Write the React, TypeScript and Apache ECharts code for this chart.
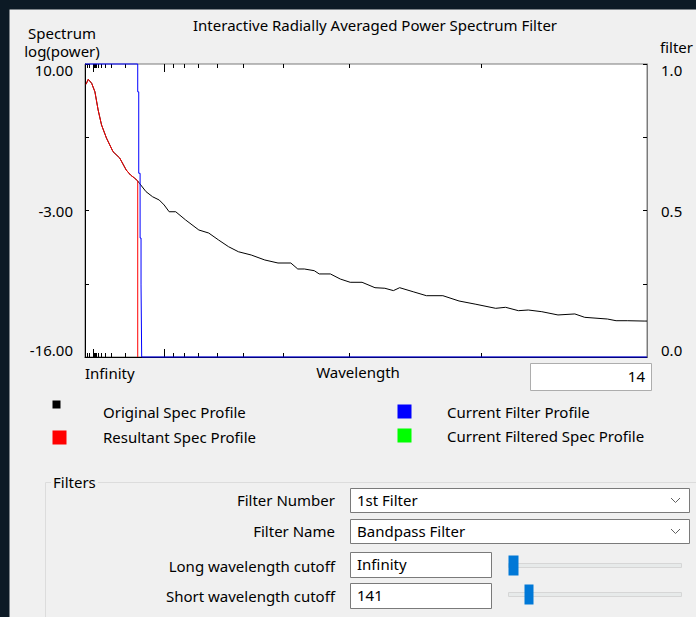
import React, { useEffect, useRef } from "react";
import * as echarts from "echarts";

// ---- data (x = spatial frequency, 1000 / wavelength) ----
const freqOriginal = [0.13, 0.41, 0.84, 1.25, 1.66, 2.09, 2.71, 3.54, 4.38, 5.21, 5.75, 6.25, 6.66, 6.88, 7.71, 8.54, 9.38, 10.0, 10.63, 11.46, 12.71, 14.38, 15.63, 16.88, 18.13, 19.38, 21.0, 22.71, 24.38, 26.0, 26.88, 27.71, 28.96, 29.59, 31.0, 32.25, 33.5, 35.0, 36.63, 37.88, 38.96, 39.75, 41.46, 43.13, 45.21, 47.25, 49.38, 51.88, 53.13, 54.75, 56.0, 57.71, 59.75, 61.88, 63.13, 66.0, 67.09, 68.5, 70.63, 71.0];
const specOriginal = [8.2, 8.64, 8.29, 7.54, 5.92, 4.59, 3.43, 2.22, 1.66, 0.59, 0.15, -0.12, -0.38, -0.59, -1.33, -1.78, -2.07, -2.51, -3.11, -3.11, -3.84, -4.73, -5.0, -5.62, -6.21, -6.66, -6.95, -7.39, -7.66, -7.66, -8.19, -8.19, -8.34, -8.63, -8.63, -9.08, -9.37, -9.37, -9.85, -9.9, -10.11, -9.85, -10.21, -10.56, -10.56, -11.03, -11.32, -11.68, -11.59, -11.89, -11.83, -11.98, -12.27, -12.18, -12.48, -12.63, -12.78, -12.78, -12.81, -12.81];

const freqResultant = [0.13, 0.41, 0.84, 1.25, 1.66, 2.09, 2.71, 3.54, 4.38, 5.21, 5.75, 6.25, 6.66, 6.66];
const specResultant = [8.2, 8.64, 8.29, 7.54, 5.92, 4.59, 3.43, 2.22, 1.66, 0.59, 0.15, -0.12, -0.38, -16];

const freqFilter = [0, 6.66, 6.66, 6.79, 6.79, 6.96, 6.96, 7.08, 7.08, 7.16, 7.16, 71.0];
const filterValues = [1, 1, 0.905, 0.905, 0.627, 0.627, 0.406, 0.406, 0.246, 0.246, 0, 0];

const majorTickWavelengths = [1000, 100];
const minorTickWavelengths = [5000, 2000, 900, 800, 700, 600, 500, 400, 300, 200, 90, 80, 70, 60, 50, 40, 30, 20];

const leftTickLabels = ["10.00", "-3.00", "-16.00"];
const rightTickLabels = ["1.0", "0.5", "0.0"];

const legendNames = ["Original Spec Profile", "Resultant Spec Profile", "Current Filter Profile", "Current Filtered Spec Profile"];
const legendColors = ["#000000", "#ff0000", "#0000ff", "#00ff00"];

const filterLabels = ["Filter Number", "Filter Name", "Long wavelength cutoff", "Short wavelength cutoff"];
const filterFieldValues = ["1st Filter", "Bandpass Filter", "Infinity", "141"];
const edgeWavelength = "14";

const FONT = "Noto Sans";
const FS = 15;

function zip(xs: number[], ys: number[]) {
  return xs.map((x, i) => [x, ys[i]]);
}

export default function App() {
  const ref = useRef<HTMLDivElement>(null);
  useEffect(() => {
    document.body.style.margin = "0";
    const chart = echarts.init(ref.current!, undefined, { renderer: "svg" });

    const tickData = [
      ...majorTickWavelengths.map((w) => [1000 / w, 8]),
      ...minorTickWavelengths.map((w) => [1000 / w, 4]),
    ];

    const txt = (text: string, x: number, y: number, align = "left", extra: any = {}) => ({
      type: "text",
      x,
      y,
      silent: true,
      style: { text, fill: "#000", fontFamily: FONT, fontSize: FS, align, verticalAlign: "middle", ...extra },
    });
    const box = (x: number, y: number, w: number, h: number, fill: string, stroke?: string) => ({
      type: "rect",
      silent: true,
      shape: { x: x + 0.5, y: y + 0.5, width: w, height: h },
      style: { fill, stroke: stroke || null, lineWidth: 1 },
    });
    const chevron = (cy: number) => ({
      type: "polyline",
      silent: true,
      shape: { points: [[671, cy - 2], [675.5, cy + 2.5], [680, cy - 2]] },
      style: { stroke: "#606060", lineWidth: 1, fill: null },
    });

    const graphics: any[] = [
      box(-1, -1, 697, 10, "#0c1a25"),
      box(-1, -1, 10, 618, "#0c1a25"),
      // wavelength edge box
      box(530, 363, 121, 27, "#ffffff", "#adadad"),
      txt(edgeWavelength, 645, 376, "right"),
      // legend
      box(52, 400, 8, 8, legendColors[0]),
      box(52, 430, 14, 14, legendColors[1]),
      box(397, 404, 14, 14, legendColors[2]),
      box(397, 428, 14, 14, legendColors[3]),
      txt(legendNames[0], 103, 412),
      txt(legendNames[1], 103, 437),
      txt(legendNames[2], 447, 412),
      txt(legendNames[3], 447, 436),
      // group box
      {
        type: "polyline",
        silent: true,
        shape: { points: [[51, 482.5], [45.5, 482.5], [45.5, 620]] },
        style: { stroke: "#dcdcdc", lineWidth: 1, fill: null },
      },
      {
        type: "line",
        silent: true,
        shape: { x1: 98, y1: 482.5, x2: 700, y2: 482.5 },
        style: { stroke: "#dcdcdc", lineWidth: 1 },
      },
      txt("Filters", 53, 482),
      txt(filterLabels[0], 335, 500, "right"),
      txt(filterLabels[1], 335, 531, "right"),
      txt(filterLabels[2], 335, 566, "right"),
      txt(filterLabels[3], 335, 596, "right"),
      box(350, 488, 339, 24, "#ffffff", "#7a7a7a"),
      txt(filterFieldValues[0], 357, 500),
      chevron(500),
      box(350, 519, 339, 24, "#ffffff", "#7a7a7a"),
      txt(filterFieldValues[1], 357, 531),
      chevron(531),
      box(350, 552, 141, 25, "#ffffff", "#7a7a7a"),
      txt(filterFieldValues[2], 357, 564),
      box(350, 583, 141, 25, "#ffffff", "#7a7a7a"),
      txt(filterFieldValues[3], 357, 595),
      box(508, 563, 173, 4, "#e7eaea", "#d6d6d6"),
      box(508, 592, 173, 4, "#e7eaea", "#d6d6d6"),
      box(508, 555, 10, 20, "#0078d7"),
      box(524, 584, 9, 20, "#0078d7"),
    ];

    const richFont = { fontFamily: FONT, fontSize: FS, color: "#000" };

    chart.setOption({
      animation: false,
      backgroundColor: "#f0f0f0",
      textStyle: { fontFamily: FONT },
      title: {
        text: "Interactive Radially Averaged Power Spectrum Filter",
        left: 193,
        top: 17,
        padding: 0,
        textStyle: { fontFamily: FONT, fontSize: FS, fontWeight: "normal", color: "#000" },
      },
      grid: {
        left: 85,
        top: 64,
        right: 43,
        bottom: 260,
        show: true,
        backgroundColor: "#ffffff",
        borderColor: "#7a7a7a",
        borderWidth: 1,
      },
      xAxis: {
        type: "value",
        min: 0,
        max: 71,
        interval: 71,
        name: "Wavelength",
        nameLocation: "middle",
        nameGap: 7,
        nameMoveOverlap: false,
        nameTextStyle: { ...richFont, verticalAlign: "top", padding: [0, 16, 0, 0] },
        axisLine: { show: true, onZero: false, lineStyle: { color: "#000", width: 1 } },
        axisTick: { show: false },
        splitLine: { show: false },
        axisLabel: {
          show: true,
          showMinLabel: true,
          showMaxLabel: true,
          margin: 8,
          align: "left",
          ...richFont,
          formatter: (v: number) => (v === 0 ? "Infinity" : ""),
        },
      },
      yAxis: [
        {
          type: "value",
          min: -16,
          max: 10,
          interval: 6.5,
          position: "left",
          name: "Spectrum\nlog(power)",
          nameLocation: "end",
          nameGap: 4,
          nameMoveOverlap: false,
          nameTextStyle: { ...richFont, lineHeight: 18, align: "center", padding: [0, 46, 0, 0] },
          axisLine: { show: true, onZero: false, lineStyle: { color: "#000", width: 1 } },
          axisTick: { show: true, inside: true, length: 4, lineStyle: { color: "#000" } },
          splitLine: { show: false },
          axisLabel: {
            margin: 12,
            showMinLabel: true,
            showMaxLabel: true,
            ...richFont,
            formatter: (v: number) => {
              if (Math.abs(v - 10) < 1e-6) return "{top|" + leftTickLabels[0] + "}";
              if (Math.abs(v + 3) < 1e-6) return "{mid|" + leftTickLabels[1] + "}";
              if (Math.abs(v + 16) < 1e-6) return "{bot|" + leftTickLabels[2] + "}";
              return "";
            },
            rich: {
              top: { ...richFont, padding: [12, 0, 0, 0] },
              mid: { ...richFont },
              bot: { ...richFont, padding: [0, 0, 14, 0] },
            },
          },
        },
        {
          type: "value",
          min: 0,
          max: 1,
          interval: 0.25,
          position: "right",
          name: "filter",
          nameLocation: "end",
          nameGap: 10,
          nameMoveOverlap: false,
          nameTextStyle: { ...richFont, align: "left", padding: [0, 0, 0, 13] },
          axisLine: { show: true, onZero: false, lineStyle: { color: "#7a7a7a", width: 1 } },
          axisTick: { show: true, inside: true, length: 4, lineStyle: { color: "#000" } },
          splitLine: { show: false },
          axisLabel: {
            margin: 14,
            showMinLabel: true,
            showMaxLabel: true,
            ...richFont,
            formatter: (v: number) => {
              if (Math.abs(v - 1) < 1e-6) return "{top|" + rightTickLabels[0] + "}";
              if (Math.abs(v - 0.5) < 1e-6) return "{mid|" + rightTickLabels[1] + "}";
              if (Math.abs(v) < 1e-6) return "{bot|" + rightTickLabels[2] + "}";
              return "";
            },
            rich: {
              top: { ...richFont, padding: [12, 0, 0, 0] },
              mid: { ...richFont },
              bot: { ...richFont, padding: [0, 0, 14, 0] },
            },
          },
        },
      ],
      series: [
        {
          type: "custom",
          name: "ticks",
          xAxisIndex: 0,
          yAxisIndex: 0,
          silent: true,
          clip: false,
          z: 5,
          data: tickData,
          renderItem: (params: any, api: any) => {
            const f = api.value(0);
            const len = api.value(1);
            const b = api.coord([f, -16]);
            const t = api.coord([f, 10]);
            const x = Math.round(b[0]) + 0.5;
            return {
              type: "group",
              children: [
                { type: "line", shape: { x1: x, y1: b[1], x2: x, y2: b[1] - len }, style: { stroke: "#000", lineWidth: 1 } },
                { type: "line", shape: { x1: x, y1: t[1], x2: x, y2: t[1] + len }, style: { stroke: "#000", lineWidth: 1 } },
              ],
            };
          },
        },
        {
          type: "line",
          name: legendNames[0],
          yAxisIndex: 0,
          data: zip(freqOriginal, specOriginal),
          showSymbol: false,
          symbol: "none",
          lineStyle: { color: "#000", width: 1 },
          z: 3,
        },
        {
          type: "line",
          name: legendNames[1],
          yAxisIndex: 0,
          data: zip(freqResultant, specResultant),
          showSymbol: false,
          symbol: "none",
          lineStyle: { color: "#ff0000", width: 1 },
          z: 4,
        },
        {
          type: "line",
          name: legendNames[2],
          yAxisIndex: 1,
          data: zip(freqFilter, filterValues),
          showSymbol: false,
          symbol: "none",
          clip: false,
          lineStyle: { color: "#0000ff", width: 1 },
          z: 6,
        },
      ],
      graphic: graphics,
    });
    return () => chart.dispose();
  }, []);
  return <div ref={ref} style={{ position: "fixed", left: 0, top: 0, width: 696, height: 617 }} />;
}
